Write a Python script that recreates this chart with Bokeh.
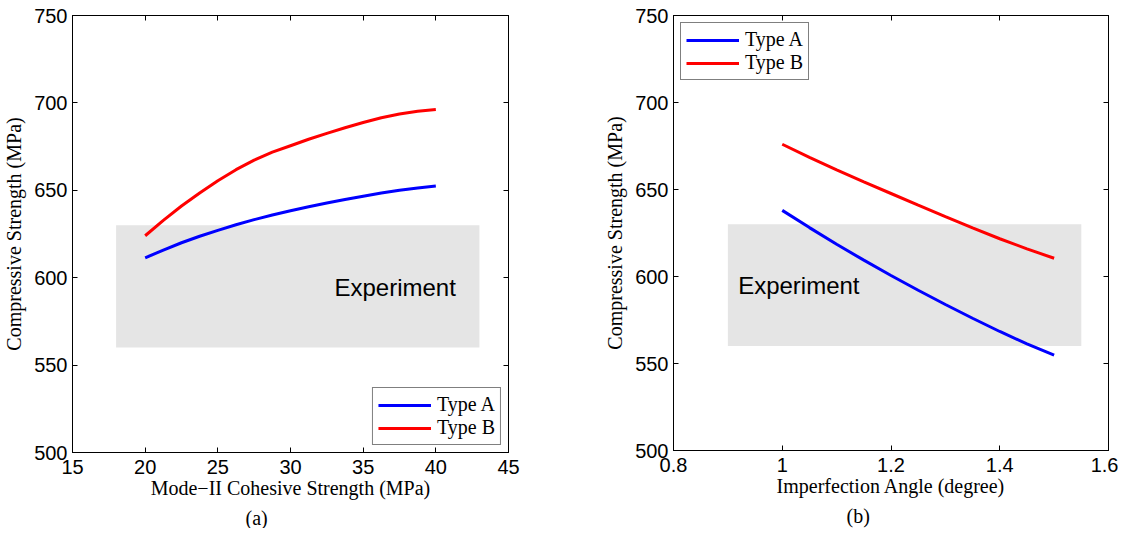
from bokeh.plotting import figure
from bokeh.layouts import row
from bokeh.models import LinearAxis, FixedTicker, Title, Legend, LegendItem, CustomJSTickFormatter
from bokeh.embed import file_html
from bokeh.resources import INLINE
from bokeh.core.properties import value

# ---- data: panel (a)
coh_strength = [20, 21.25, 22.5, 23.75, 25, 26.25, 27.5, 28.75, 30,
                31.25, 32.5, 33.75, 35, 36.25, 37.5, 38.75, 40]
a_typeA = [611.4, 615.8, 620.0, 623.7, 627.1, 630.3, 633.2, 635.9, 638.3,
           640.6, 642.7, 644.7, 646.6, 648.4, 650.0, 651.3, 652.4]
a_typeB = [624.0, 632.8, 641.0, 648.5, 655.5, 661.8, 667.3, 671.8, 675.5,
           679.2, 682.6, 685.8, 688.8, 691.5, 693.6, 695.2, 696.2]
a_exp_x = [18, 43]

# ---- data: panel (b)
imp_angle = [1.0, 1.05, 1.1, 1.15, 1.2, 1.25, 1.3, 1.35, 1.4, 1.45, 1.5]
b_typeA = [638.0, 628.1, 618.5, 609.4, 600.6, 592.1, 583.9, 576.0, 568.4, 561.3, 554.8]
b_typeB = [676.0, 668.5, 661.3, 654.4, 647.7, 641.0, 634.4, 627.9, 621.7, 615.9, 610.5]
b_exp_x = [0.9, 1.55]

exp_range = [560, 630]

a_xticks = [15, 20, 25, 30, 35, 40, 45]
b_xticks = [0.8, 1.0, 1.2, 1.4, 1.6]
yticks = [500, 550, 600, 650, 700, 750]

SANS = "Liberation Sans"
SERIF = "Liberation Serif"
BLUE = "#0000ff"
RED = "#ff0000"
GRAY = "#e5e5e5"

blank_fmt = CustomJSTickFormatter(code="return '';")
TOTAL_H = 528


def style_axis(ax, ticks, show_labels=True, fmt=None):
    ax.ticker = FixedTicker(ticks=ticks)
    ax.major_tick_in = 5
    ax.major_tick_out = 0
    ax.minor_tick_in = 0
    ax.minor_tick_out = 0
    ax.minor_tick_line_color = None
    ax.axis_line_color = "black"
    ax.major_tick_line_color = "black"
    ax.major_label_text_font = SANS
    ax.major_label_text_font_size = "20px"
    ax.major_label_text_color = "black"
    ax.major_label_standoff = 5
    ax.axis_label_text_font = SERIF
    ax.axis_label_text_font_size = "20px"
    ax.axis_label_text_font_style = "normal"
    ax.axis_label_text_color = "black"
    if not show_labels:
        ax.formatter = blank_fmt
        ax.major_label_standoff = 0
    elif fmt is not None:
        ax.formatter = fmt


def make_panel(xs, yA, yB, exp_x, xr, xticks, xlabel, caption, legend_loc,
               txt_x, border_left, border_right, border_top, fw, fh, fmt=None):
    p = figure(x_range=xr, y_range=(500, 750), frame_width=fw, frame_height=fh,
               min_border_left=border_left, min_border_right=border_right,
               min_border_top=border_top, min_border_bottom=TOTAL_H - border_top - fh,
               output_backend="svg", toolbar_location=None)
    p.xgrid.visible = False
    p.ygrid.visible = False
    p.outline_line_color = "black"
    p.outline_line_width = 1
    p.background_fill_color = "white"
    p.border_fill_color = "white"

    style_axis(p.xaxis[0], xticks, True, fmt)
    style_axis(p.yaxis[0], yticks, True)
    p.xaxis.axis_label = xlabel
    p.yaxis.axis_label = "Compressive Strength (MPa)"
    p.xaxis.major_label_standoff = 7
    p.xaxis.axis_label_standoff = 0
    p.yaxis.axis_label_standoff = 6

    top_ax = LinearAxis()
    style_axis(top_ax, xticks, False)
    right_ax = LinearAxis()
    style_axis(right_ax, yticks, False)
    p.add_layout(top_ax, "above")
    p.add_layout(right_ax, "right")

    p.quad(left=[exp_x[0]], right=[exp_x[1]], bottom=[exp_range[0]], top=[exp_range[1]],
           fill_color=GRAY, line_color=None)
    p.text(x=[txt_x], y=[594.6], text=["Experiment"], text_font=value(SANS),
           text_font_size="24px", text_align="center", text_baseline="alphabetic",
           text_color="black")

    ra = p.line(xs, yA, line_color=BLUE, line_width=3)
    rb = p.line(xs, yB, line_color=RED, line_width=3)

    leg = Legend(items=[LegendItem(label="Type A", renderers=[ra]),
                        LegendItem(label="Type B", renderers=[rb])],
                 location=legend_loc)
    leg.label_text_font = SERIF
    leg.label_text_font_size = "20px"
    leg.label_text_color = "black"
    leg.border_line_color = "black"
    leg.border_line_width = 1
    leg.background_fill_alpha = 1
    leg.padding = 5
    leg.spacing = 0
    leg.margin = 7
    leg.label_height = 20
    leg.glyph_height = 20
    leg.glyph_width = 53
    leg.label_standoff = 6
    p.add_layout(leg, "center")

    cap = Title(text=caption, align="left", offset=173, text_font=SERIF,
                text_font_size="20px", text_font_style="normal", text_color="black",
                standoff=6)
    p.add_layout(cap, "below")
    return p


fmt_b = CustomJSTickFormatter(code="return tick.toFixed(1).replace(/\\.0$/, '');")

pa = make_panel(coh_strength, a_typeA, a_typeB, a_exp_x, (15, 45), a_xticks,
                "Mode\u2212II Cohesive Strength (MPa)", "(a)", "bottom_right",
                37.2, 69, 40, 12, 436, 437)
pb = make_panel(imp_angle, b_typeA, b_typeB, b_exp_x, (0.8, 1.6), b_xticks,
                "Imperfection Angle (degree)", "(b)", "top_left",
                1.0305, 125, 10, 15, 435, 435, fmt=fmt_b)

layout = row(pa, pb)
open("out.html", "w").write(file_html(layout, INLINE))
